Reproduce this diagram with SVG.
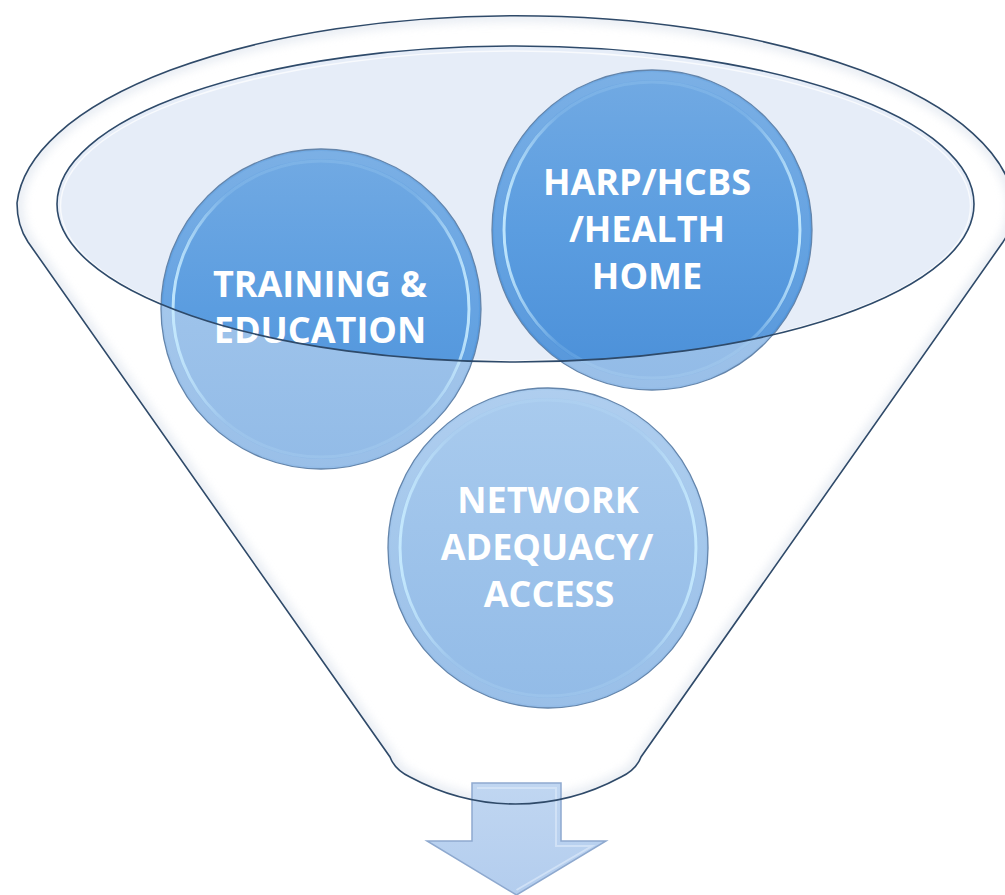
<svg xmlns="http://www.w3.org/2000/svg" width="1005" height="895" viewBox="0 0 1005 895">
<style>
.lbl{font-family:"Open Sans","Liberation Sans",sans-serif;font-weight:700;font-size:36px;fill:#ffffff;text-anchor:middle}
.cbase{fill:url(#gLight)}
.cdark{fill:url(#gDark)}
.edge{fill:none;stroke:#6485ab;stroke-width:1.3}
.bevel{fill:none;stroke:url(#gBevel);stroke-width:3}
.band{fill:none;stroke:#ffffff;stroke-width:8;opacity:0.07}
</style>
<defs>
<linearGradient id="gLight" x1="0" y1="0" x2="0" y2="1">
<stop offset="0" stop-color="#a9cbee"/>
<stop offset="1" stop-color="#92bbe7"/>
</linearGradient>
<linearGradient id="gDark" x1="0" y1="0" x2="0" y2="1">
<stop offset="0" stop-color="#72aae3"/>
<stop offset="0.5" stop-color="#5b9de0"/>
<stop offset="1" stop-color="#4a8fd8"/>
</linearGradient>
<linearGradient id="gBevel" x1="0" y1="0" x2="1" y2="0">
<stop offset="0" stop-color="#c8ecff" stop-opacity="0.9"/>
<stop offset="0.18" stop-color="#c8ecff" stop-opacity="0.15"/>
<stop offset="0.82" stop-color="#c8ecff" stop-opacity="0.15"/>
<stop offset="1" stop-color="#c8ecff" stop-opacity="0.9"/>
</linearGradient>
<linearGradient id="gArrow" x1="0" y1="0" x2="0" y2="1">
<stop offset="0" stop-color="#c0d6f1"/>
<stop offset="1" stop-color="#b3cdee"/>
</linearGradient>
<path id="funnelPath" d="M17,203 C17,222 22,233 28,242 L390,757 Q395,770 410,777 Q460,804 515.5,804 Q571,804 621,777 Q636,770 641,757 L1003,242 C1009,233 1014,222 1014,203 A499,196 0 0 0 17,203 Z"/>
<clipPath id="clipFunnel"><use href="#funnelPath"/></clipPath>
<clipPath id="clipEll"><ellipse cx="515.5" cy="204" rx="458.5" ry="158"/></clipPath>
<filter id="blur6" x="-10%" y="-10%" width="120%" height="120%"><feGaussianBlur stdDeviation="5"/></filter>
</defs>

<g id="funnel">
<use href="#funnelPath" fill="#ffffff"/>
<g clip-path="url(#clipFunnel)">
<use href="#funnelPath" fill="none" stroke="#dfe5ee" stroke-width="12" opacity="0.7" filter="url(#blur6)"/>
</g>
<ellipse id="funnel-top" cx="515.5" cy="204" rx="458.5" ry="158" fill="#e6edf8"/>
<ellipse cx="515.5" cy="206" rx="455" ry="155" fill="none" stroke="#ffffff" stroke-width="1.5" opacity="0.7"/>
</g>

<g id="node-training">
<circle class="cbase" cx="321" cy="309" r="160"/>
<circle class="cdark" cx="321" cy="309" r="160" clip-path="url(#clipEll)"/>
<circle class="edge" cx="321" cy="309" r="160"/>
<circle class="band" cx="321" cy="309" r="154"/>
<circle class="bevel" cx="321" cy="309" r="148"/>
<text class="lbl" x="320" y="297">TRAINING &amp;</text>
<text class="lbl" x="320" y="343">EDUCATION</text>
</g>

<g id="node-harp">
<circle class="cbase" cx="652" cy="230" r="160"/>
<circle class="cdark" cx="652" cy="230" r="160" clip-path="url(#clipEll)"/>
<circle class="edge" cx="652" cy="230" r="160"/>
<circle class="band" cx="652" cy="230" r="154"/>
<circle class="bevel" cx="652" cy="230" r="148"/>
<text class="lbl" x="647" y="195">HARP/HCBS</text>
<text class="lbl" x="647" y="242">/HEALTH</text>
<text class="lbl" x="647" y="289">HOME</text>
</g>

<g id="node-network">
<circle class="cbase" cx="548" cy="548" r="160"/>
<circle class="edge" cx="548" cy="548" r="160" stroke="#8aa6c6"/>
<circle class="band" cx="548" cy="548" r="154"/>
<circle class="bevel" cx="548" cy="548" r="148"/>
<text class="lbl" x="548" y="513">NETWORK</text>
<text class="lbl" x="547" y="560">ADEQUACY/</text>
<text class="lbl" x="549" y="607">ACCESS</text>
</g>

<g id="connectors">
<ellipse cx="515.5" cy="204" rx="458.5" ry="158" fill="none" stroke="#2e4a6a" stroke-width="1.6"/>
<g id="arrow-down">
<path d="M472,783 H561 V841 H606 L516.5,895 L427,841 H472 Z" fill="url(#gArrow)" stroke="#8ea9cf" stroke-width="1.5"/>
<path d="M477,788 H556 V846 H592 L516.5,890" fill="none" stroke="#d6e5f7" stroke-width="2" opacity="0.8"/>
</g>
<use href="#funnelPath" fill="none" stroke="#2f4a69" stroke-width="1.6"/>
</g>
</svg>
